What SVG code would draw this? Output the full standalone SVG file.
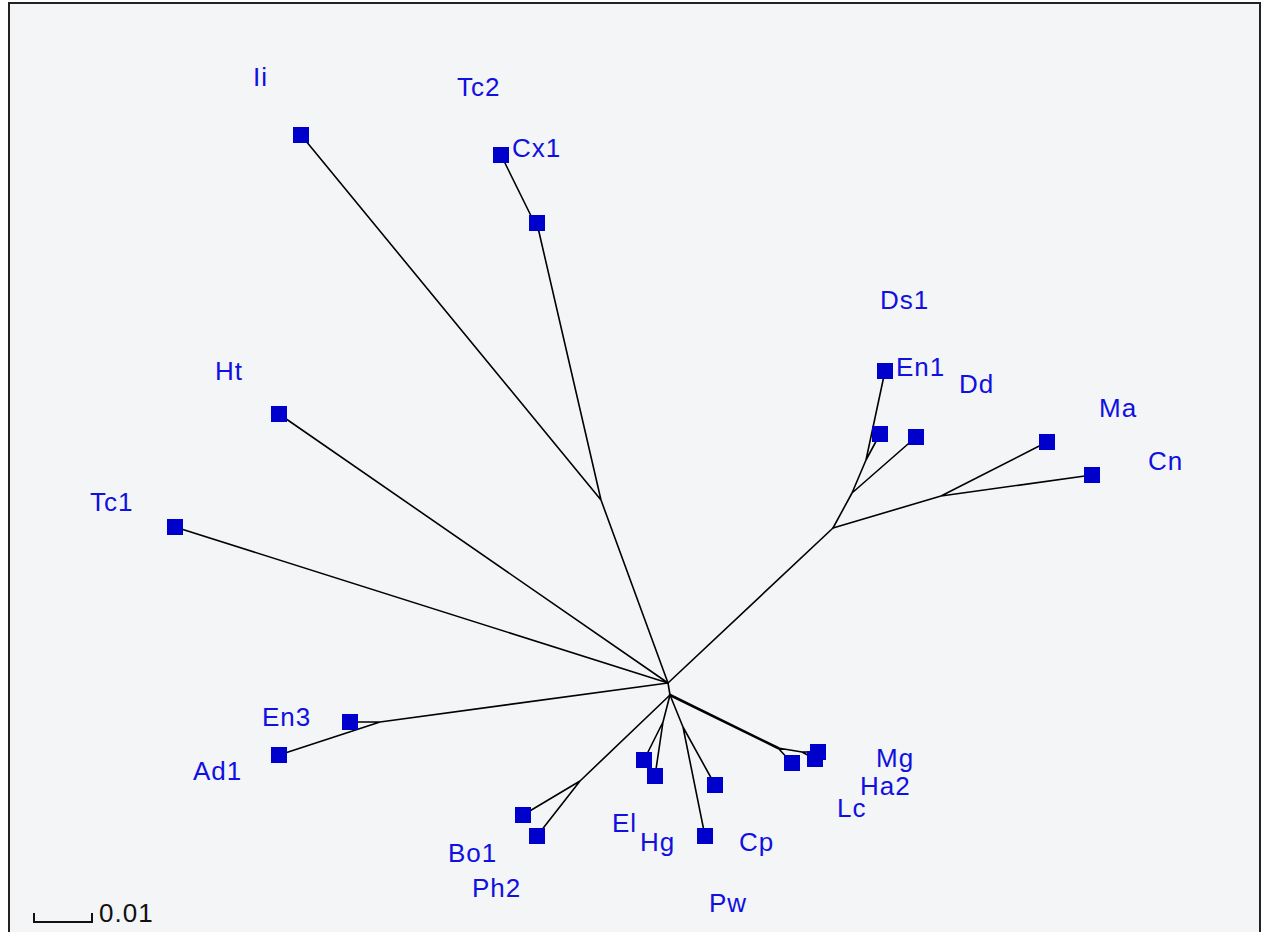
<svg xmlns="http://www.w3.org/2000/svg" width="1262" height="932" viewBox="0 0 1262 932">
<style>
.edge{stroke:#000;stroke-width:1.6;fill:none;stroke-linecap:round}
.sq{fill:#0000cc}
.lbl{font-family:"Liberation Sans",Arial,sans-serif;font-size:26px;fill:#1010e0;letter-spacing:1px}
.scale{font-family:"Liberation Sans",Arial,sans-serif;font-size:26px;fill:#111;letter-spacing:1px}
</style>
<rect x="0" y="0" width="1262" height="932" fill="#ffffff"/>
<rect x="9" y="3" width="1251" height="940" fill="#f4f5f7" stroke="#222" stroke-width="2"/>
<g id="connectors">
<path class="edge" d="M668,683 L601,500 M601,500 L301,135 M601,500 L539,232 M539,232 L501,155 M539,232 L537,223"/>
<path class="edge" d="M668,683 L279,414 M668,683 L175,527"/>
<path class="edge" d="M668,683 L380,722 M380,722 L350,722 M380,722 L279,755"/>
<path class="edge" d="M668,683 L833,528 M833,528 L941,496 M941,496 L1047,442 M941,496 L1092,475"/>
<path class="edge" d="M833,528 L852,493 M852,493 L866,460 M866,460 L885,371 M866,460 L880,434 M852,493 L916,437"/>
<path class="edge" d="M668,683 L670,695"/>
<path class="edge" d="M670,695 L580,781 M580,781 L523,815 M580,781 L537,836"/>
<path class="edge" d="M670,695 L663,722 M663,722 L644,760 M663,722 L655,776"/>
<path class="edge" d="M670,695 L683,727 M683,727 L715,785 M683,727 L705,836"/>
<path class="edge" style="stroke-width:2.6" d="M670,695 L778,748"/>
<path class="edge" d="M778,748 L792,763 M778,748 L802,752 M802,752 L815,759 M802,752 L818,752"/>
</g>
<g id="node-Ii"><rect class="sq" x="293" y="127" width="16" height="16"/><text class="lbl" x="253" y="86">Ii</text></g>
<g id="node-Tc2"><rect class="sq" x="529" y="215" width="16" height="16"/><text class="lbl" x="457" y="96">Tc2</text></g>
<g id="node-Cx1"><rect class="sq" x="493" y="147" width="16" height="16"/><text class="lbl" x="512" y="157">Cx1</text></g>
<g id="node-Ds1"><rect class="sq" x="872" y="426" width="16" height="16"/><text class="lbl" x="880" y="309">Ds1</text></g>
<g id="node-En1"><rect class="sq" x="877" y="363" width="16" height="16"/><text class="lbl" x="896" y="376">En1</text></g>
<g id="node-Dd"><rect class="sq" x="908" y="429" width="16" height="16"/><text class="lbl" x="959" y="393">Dd</text></g>
<g id="node-Ma"><rect class="sq" x="1039" y="434" width="16" height="16"/><text class="lbl" x="1099" y="417">Ma</text></g>
<g id="node-Cn"><rect class="sq" x="1084" y="467" width="16" height="16"/><text class="lbl" x="1148" y="470">Cn</text></g>
<g id="node-Ht"><rect class="sq" x="271" y="406" width="16" height="16"/><text class="lbl" x="215" y="380">Ht</text></g>
<g id="node-Tc1"><rect class="sq" x="167" y="519" width="16" height="16"/><text class="lbl" x="90" y="511">Tc1</text></g>
<g id="node-En3"><rect class="sq" x="342" y="714" width="16" height="16"/><text class="lbl" x="262" y="726">En3</text></g>
<g id="node-Ad1"><rect class="sq" x="271" y="747" width="16" height="16"/><text class="lbl" x="193" y="780">Ad1</text></g>
<g id="node-Bo1"><rect class="sq" x="515" y="807" width="16" height="16"/><text class="lbl" x="448" y="862">Bo1</text></g>
<g id="node-Ph2"><rect class="sq" x="529" y="828" width="16" height="16"/><text class="lbl" x="472" y="897">Ph2</text></g>
<g id="node-El"><rect class="sq" x="636" y="752" width="16" height="16"/><text class="lbl" x="612" y="832">El</text></g>
<g id="node-Hg"><rect class="sq" x="647" y="768" width="16" height="16"/><text class="lbl" x="640" y="851">Hg</text></g>
<g id="node-Cp"><rect class="sq" x="707" y="777" width="16" height="16"/><text class="lbl" x="739" y="851">Cp</text></g>
<g id="node-Pw"><rect class="sq" x="697" y="828" width="16" height="16"/><text class="lbl" x="709" y="912">Pw</text></g>
<g id="node-Lc"><rect class="sq" x="784" y="755" width="16" height="16"/><text class="lbl" x="837" y="817">Lc</text></g>
<g id="node-Ha2"><rect class="sq" x="807" y="751" width="16" height="16"/><text class="lbl" x="860" y="795">Ha2</text></g>
<g id="node-Mg"><rect class="sq" x="810" y="744" width="16" height="16"/><text class="lbl" x="876" y="767">Mg</text></g>
<g id="scale-bar">
<path d="M34,913 L34,922 L92,922 L92,913" stroke="#111" stroke-width="2" fill="none"/>
<text class="scale" x="99" y="922">0.01</text>
</g>
</svg>
